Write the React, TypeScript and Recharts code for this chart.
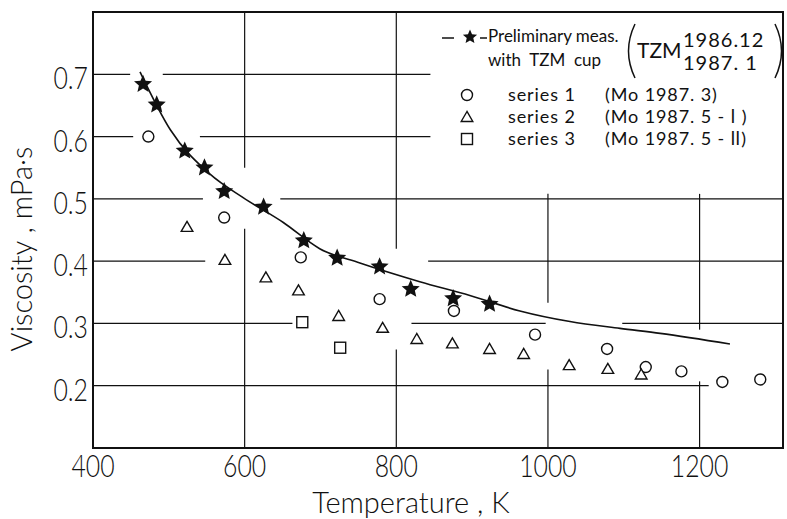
import { ComposedChart, Line, Scatter, XAxis, YAxis, ReferenceLine, ReferenceArea, Legend, Label } from 'recharts';

// Preliminary measurements with TZM cup (stars)
const prelimT = [466, 484, 521, 547, 573, 625, 678, 722, 778, 819, 875, 923];
const prelimV = [0.684, 0.651, 0.577, 0.55, 0.512, 0.487, 0.433, 0.405, 0.391, 0.355, 0.34, 0.331];

// series 1 (Mo 1987.3)
const series1T = [473, 573, 674, 778, 876, 983, 1078, 1129, 1176, 1230, 1280];
const series1V = [0.6, 0.47, 0.406, 0.339, 0.32, 0.282, 0.259, 0.23, 0.223, 0.206, 0.21];

// series 2 (Mo 1987.5-I)
const series2T = [524, 574, 628, 671, 724, 782, 827, 874, 923, 968, 1028, 1079, 1123];
const series2V = [0.455, 0.402, 0.374, 0.353, 0.312, 0.293, 0.275, 0.268, 0.259, 0.251, 0.233, 0.227, 0.218];

// series 3 (Mo 1987.5-II)
const series3T = [676, 726];
const series3V = [0.302, 0.261];

// fitted curve through the preliminary data
const fitT = [462, 502, 554, 598, 651, 699, 752, 831, 897, 963, 1029, 1095, 1148, 1240];
const fitV = [0.704, 0.611, 0.54, 0.502, 0.462, 0.42, 0.397, 0.367, 0.345, 0.32, 0.303, 0.292, 0.284, 0.267];

const xTicks = [400, 600, 800, 1000, 1200];
const yTicks = [0.2, 0.3, 0.4, 0.5, 0.6, 0.7];

// grid is drawn broken around the data, as in the original figure
const hGrid: [number, number, number][] = [
  [0.7, 400, 449], [0.7, 492, 845],
  [0.6, 400, 453], [0.6, 541, 845],
  [0.5, 400, 545], [0.5, 647, 1310],
  [0.4, 400, 548], [0.4, 842, 1310],
  [0.3, 400, 663], [0.3, 820, 997], [0.3, 1098, 1310],
  [0.2, 400, 1212],
];
const vGrid: [number, number, number][] = [
  [600, 0.55, 0.8], [600, 0.1, 0.452],
  [800, 0.42, 0.8], [800, 0.1, 0.258],
  [1000, 0.333, 0.508], [1000, 0.1, 0.226],
  [1200, 0.29, 0.508], [1200, 0.1, 0.207],
];

const pts = (ts: number[], vs: number[]) => ts.map((t, i) => ({ t, v: vs[i] }));

const INK = '#111';
const lightFont = "Lato, Inter, 'Liberation Sans', sans-serif";

const starPoints = (cx: number, cy: number, ro: number, ri: number) => {
  const p: string[] = [];
  for (let i = 0; i < 10; i++) {
    const r = i % 2 === 0 ? ro : ri;
    const a = -Math.PI / 2 + (i * Math.PI) / 5;
    p.push(`${cx + r * Math.cos(a)},${cy + r * Math.sin(a)}`);
  }
  return p.join(' ');
};

const StarMark = ({ cx, cy, r = 9.5 }: any) => <polygon points={starPoints(cx, cy, r, r * 0.46)} fill={INK} />;
const CircleMark = ({ cx, cy }: any) => <circle cx={cx} cy={cy} r={5.5} fill="#fff" stroke={INK} strokeWidth={1.4} />;
const TriMark = ({ cx, cy }: any) => (
  <polygon points={`${cx},${cy - 5.5} ${cx - 5.8},${cy + 4.5} ${cx + 5.8},${cy + 4.5}`} fill="#fff" stroke={INK} strokeWidth={1.4} />
);
const SquareMark = ({ cx, cy }: any) => (
  <rect x={cx - 5.5} y={cy - 5.5} width={11} height={11} fill="#fff" stroke={INK} strokeWidth={1.4} />
);

const LegendBox = () => (
  <svg width={360} height={140} style={{ display: 'block', overflow: 'visible' }}>
    <g fontFamily={lightFont} fill={INK}>
      <line x1={12} y1={22} x2={24} y2={22} stroke={INK} strokeWidth={1.5} />
      <StarMark cx={40} cy={21} r={7.5} />
      <line x1={50} y1={22} x2={57} y2={22} stroke={INK} strokeWidth={1.5} />
      <text x={58} y={26} fontSize={17}>Preliminary meas.</text>
      <text x={58} y={50} fontSize={17} style={{ whiteSpace: 'pre' }}>with  TZM  cup</text>
      <path d="M 205 8 Q 192 35 205 62" fill="none" stroke={INK} strokeWidth={1.5} />
      <text x={207} y={42} fontSize={21}>TZM</text>
      <text x={253} y={31} fontSize={20} letterSpacing={1}>1986.12</text>
      <text x={253} y={54} fontSize={20} letterSpacing={1} style={{ whiteSpace: 'pre' }}>1987. 1</text>
      <path d="M 345 8 Q 358 35 345 62" fill="none" stroke={INK} strokeWidth={1.5} />
      <CircleMark cx={37} cy={79} />
      <text x={78} y={85} fontSize={18} letterSpacing={0.9}>series 1</text>
      <text x={175} y={85} fontSize={18} letterSpacing={0.9} style={{ whiteSpace: 'pre' }}>(Mo 1987. 3)</text>
      <TriMark cx={37} cy={101} />
      <text x={78} y={107} fontSize={18} letterSpacing={0.9}>series 2</text>
      <text x={175} y={107} fontSize={18} letterSpacing={0.9} style={{ whiteSpace: 'pre' }}>(Mo 1987. 5 - Ⅰ )</text>
      <SquareMark cx={37} cy={123} />
      <text x={78} y={129} fontSize={18} letterSpacing={0.9}>series 3</text>
      <text x={175} y={129} fontSize={18} letterSpacing={0.9} style={{ whiteSpace: 'pre' }}>(Mo 1987. 5 - Ⅱ)</text>
    </g>
  </svg>
);

export default function App() {
  return (
    <div style={{ position: 'absolute', left: 0, top: 0, width: 787, height: 519, background: '#fff' }}>
      <ComposedChart width={787} height={519} margin={{ top: 12, right: 4, bottom: 0, left: 0 }}>
        {hGrid.map(([v, a, b], i) => (
          <ReferenceLine key={`h${i}`} segment={[{ x: a, y: v }, { x: b, y: v }]} stroke={INK} strokeWidth={1.2} />
        ))}
        {vGrid.map(([t, a, b], i) => (
          <ReferenceLine key={`v${i}`} segment={[{ x: t, y: a }, { x: t, y: b }]} stroke={INK} strokeWidth={1.2} />
        ))}
        <ReferenceArea x1={400} x2={1310} y1={0.1} y2={0.8} fill="none" stroke={INK} strokeWidth={2} />
        <XAxis
          type="number"
          dataKey="t"
          domain={[400, 1310]}
          ticks={xTicks}
          height={71}
          axisLine={false}
          tickLine={false}
          tickSize={0}
          tickMargin={0}
          interval={0}
          tick={(p: any) => (
            <text
              transform={`translate(${p.x}, ${p.y + 29}) scale(0.8, 1)`}
              textAnchor="middle"
              fontFamily={lightFont}
              fontWeight={300}
              fontSize={31}
              fill={INK}
            >
              {p.payload.value}
            </text>
          )}
        >
          <Label
            content={() => (
              <text x={411} y={513} textAnchor="middle" fontFamily={lightFont} fontWeight={300} fontSize={29} fill={INK} style={{ whiteSpace: 'pre' }}>
                Temperature , K
              </text>
            )}
          />
        </XAxis>
        <YAxis
          type="number"
          dataKey="v"
          domain={[0.1, 0.8]}
          ticks={yTicks}
          width={93}
          axisLine={false}
          tickLine={false}
          tickSize={0}
          tickMargin={0}
          interval={0}
          tick={(p: any) => (
            <text
              transform={`translate(${p.x - 5}, ${p.y + 15}) scale(0.8, 1)`}
              textAnchor="end"
              fontFamily={lightFont}
              fontWeight={300}
              fontSize={31}
              fill={INK}
            >
              {Number(p.payload.value).toFixed(1)}
            </text>
          )}
        >
          <Label
            content={() => (
              <text transform="translate(32, 249) rotate(-90)" textAnchor="middle" fontFamily={lightFont} fontWeight={300} fontSize={29} fill={INK} style={{ whiteSpace: 'pre' }}>
                Viscosity , mPa·s
              </text>
            )}
          />
        </YAxis>
        <Legend
          layout="vertical"
          align="center"
          verticalAlign="middle"
          wrapperStyle={{ left: 430, top: 16, width: 360, height: 140 }}
          content={() => <LegendBox />}
        />
        <Line data={pts(fitT, fitV)} dataKey="v" type="monotone" stroke={INK} strokeWidth={1.6} dot={false} isAnimationActive={false} legendType="none" />
        <Scatter data={pts(series1T, series1V)} dataKey="v" shape={(p: any) => <CircleMark cx={p.cx} cy={p.cy} />} isAnimationActive={false} />
        <Scatter data={pts(series2T, series2V)} dataKey="v" shape={(p: any) => <TriMark cx={p.cx} cy={p.cy} />} isAnimationActive={false} />
        <Scatter data={pts(series3T, series3V)} dataKey="v" shape={(p: any) => <SquareMark cx={p.cx} cy={p.cy} />} isAnimationActive={false} />
        <Scatter data={pts(prelimT, prelimV)} dataKey="v" shape={(p: any) => <StarMark cx={p.cx} cy={p.cy} />} isAnimationActive={false} />
      </ComposedChart>
    </div>
  );
}
